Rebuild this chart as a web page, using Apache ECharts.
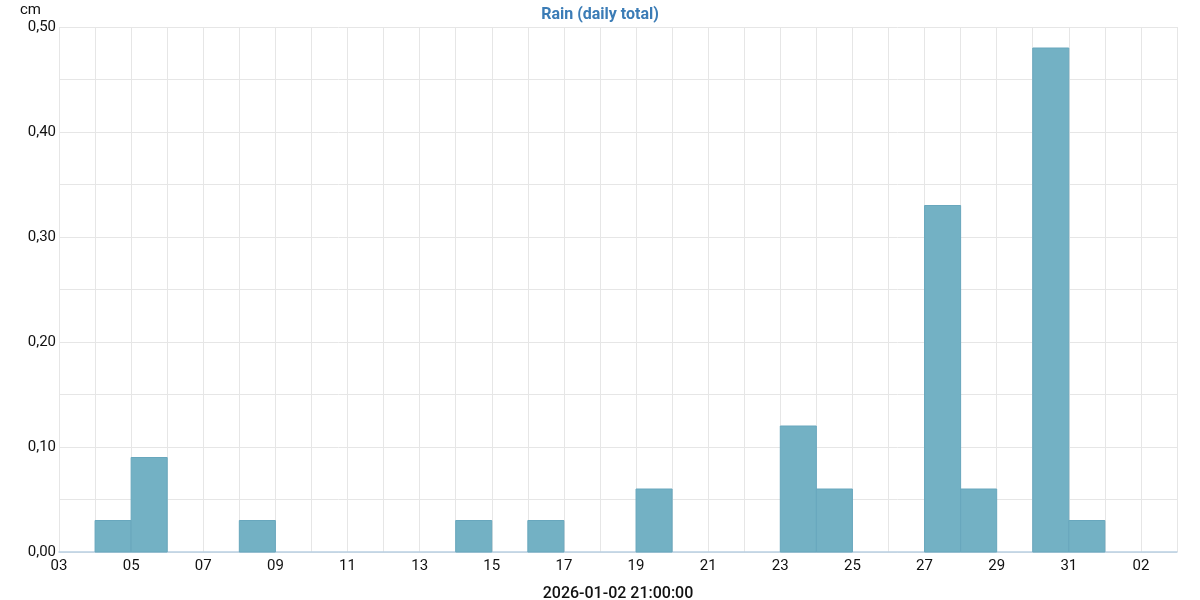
<!DOCTYPE html>
<html>
<head>
<meta charset="utf-8">
<script src="https://cdn.jsdelivr.net/npm/echarts@6/dist/echarts.min.js"></script>
<style>html,body{margin:0;padding:0;background:#fff}#c{width:1200px;height:600px}</style>
</head>
<body>
<div id="c"></div>
<script>
// Data
const startDate = '2025-12-03';
const endDate = '2026-01-03';
const barDays = ['2025-12-04','2025-12-05','2025-12-08','2025-12-14','2025-12-16','2025-12-19','2025-12-23','2025-12-24','2025-12-27','2025-12-28','2025-12-30','2025-12-31'];
const rainValues = [0.03, 0.09, 0.03, 0.03, 0.03, 0.06, 0.12, 0.06, 0.33, 0.06, 0.48, 0.03];
const titleText = 'Rain (daily total)';
const xName = '2026-01-02 21:00:00';
const yName = 'cm';

const DAY = 86400000;
const t0 = Date.parse(startDate + 'T00:00:00Z');
const tEnd = Date.parse(endDate + 'T00:00:00Z');
const off = d => Math.round((Date.parse(d + 'T00:00:00Z') - t0) / DAY);
const nDays = Math.round((tEnd - t0) / DAY);
const data = barDays.map((d, i) => [off(d), rainValues[i]]);

const chart = echarts.init(document.getElementById('c'));
chart.setOption({
  animation: false,
  title: {
    text: titleText, left: 'center', top: 2,
    textStyle: {color: '#3b7cb6', fontSize: 16, fontWeight: 'bold', fontFamily: 'Roboto'}
  },
  grid: {left: 59, right: 23, top: 27, bottom: 48, containLabel: false, outerBoundsMode: 'none'},
  xAxis: {
    type: 'value', min: 0, max: nDays, interval: 1,
    name: xName, nameLocation: 'middle', nameGap: 34,
    nameTextStyle: {color: '#111', fontSize: 16, fontWeight: 500, fontFamily: 'Roboto'},
    axisLine: {show: true, lineStyle: {color: '#b9cfe2', width: 1.5}},
    axisTick: {show: false},
    splitLine: {show: true, lineStyle: {color: '#e6e6e6', width: 1}},
    axisLabel: {
      color: '#111', fontSize: 15, fontFamily: 'Roboto', margin: 7,
      formatter: v => {
        if (v % 2 !== 0) return '';
        const d = new Date(t0 + v * DAY);
        return String(d.getUTCDate()).padStart(2, '0');
      }
    }
  },
  yAxis: {
    type: 'value', min: 0, max: 0.5, interval: 0.05,
    name: yName, nameLocation: 'end', nameGap: 9,
    nameTextStyle: {color: '#111', fontSize: 15, fontFamily: 'Roboto', align: 'right', padding: [0, 18, 0, 0]},
    axisLine: {show: false},
    axisTick: {show: false},
    splitLine: {show: true, lineStyle: {color: '#e6e6e6', width: 1}},
    axisLabel: {
      color: '#111', fontSize: 15, fontFamily: 'Roboto', margin: 3,
      formatter: v => {
        const k = Math.round(v * 100);
        if (k % 10 !== 0) return '';
        return (k / 100).toFixed(2).replace('.', ',');
      }
    }
  },
  series: [{
    type: 'custom',
    data: data,
    encode: {x: 0, y: 1},
    renderItem: (params, api) => {
      const x = api.value(0), y = api.value(1);
      const p0 = api.coord([x, 0]);
      const p1 = api.coord([x + 1, y]);
      return {
        type: 'rect',
        shape: {x: p0[0], y: p1[1], width: p1[0] - p0[0], height: p0[1] - p1[1]},
        style: {fill: '#73b1c4', stroke: '#68a7bd', lineWidth: 1}
      };
    }
  }]
});
</script>
</body>
</html>
